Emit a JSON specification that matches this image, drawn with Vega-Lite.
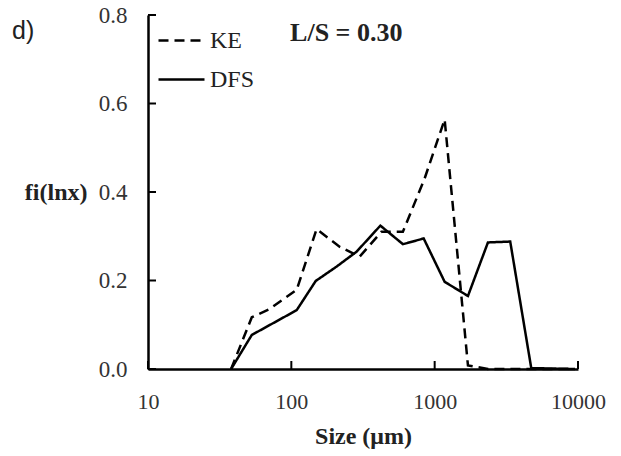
{
  "$schema": "https://vega.github.io/schema/vega-lite/v6.json",
  "width": 430,
  "height": 354,
  "autosize": {"type": "none"},
  "padding": {"left": 148, "top": 15, "right": 43, "bottom": 87},
  "background": "white",
  "config": {"view": {"stroke": null}, "font": "Liberation Serif"},
  "title": {"text": "d)", "anchor": "start", "frame": "group", "font": "Liberation Sans", "fontSize": 25, "fontWeight": "normal", "color": "#222", "dx": -136, "dy": 44},
  "datasets": {
    "lines": [
      {"series": "DFS", "size": 38, "f": 0},
      {"series": "DFS", "size": 53, "f": 0.077},
      {"series": "DFS", "size": 109, "f": 0.133},
      {"series": "DFS", "size": 148, "f": 0.199},
      {"series": "DFS", "size": 206, "f": 0.231},
      {"series": "DFS", "size": 285, "f": 0.265},
      {"series": "DFS", "size": 418, "f": 0.324},
      {"series": "DFS", "size": 601, "f": 0.282},
      {"series": "DFS", "size": 838, "f": 0.295},
      {"series": "DFS", "size": 1174, "f": 0.197},
      {"series": "DFS", "size": 1707, "f": 0.165},
      {"series": "DFS", "size": 2353, "f": 0.286},
      {"series": "DFS", "size": 3366, "f": 0.288},
      {"series": "DFS", "size": 4720, "f": 0.002},
      {"series": "DFS", "size": 9500, "f": 0},
      {"series": "KE", "size": 38, "f": 0},
      {"series": "KE", "size": 53, "f": 0.117},
      {"series": "KE", "size": 70, "f": 0.135},
      {"series": "KE", "size": 109, "f": 0.179},
      {"series": "KE", "size": 150, "f": 0.316},
      {"series": "KE", "size": 218, "f": 0.276},
      {"series": "KE", "size": 300, "f": 0.254},
      {"series": "KE", "size": 425, "f": 0.31},
      {"series": "KE", "size": 600, "f": 0.31},
      {"series": "KE", "size": 850, "f": 0.43},
      {"series": "KE", "size": 1174, "f": 0.564},
      {"series": "KE", "size": 1707, "f": 0.008},
      {"series": "KE", "size": 2353, "f": 0},
      {"series": "KE", "size": 9500, "f": 0}
    ],
    "labels": [
      {"label": "L/S = 0.30", "size": 98, "f": 0.76}
    ],
    "xticks": [
      {"size": 10, "f": 0}, {"size": 100, "f": 0}, {"size": 1000, "f": 0}, {"size": 10000, "f": 0}
    ],
    "yticks": [
      {"size": 10, "f": 0}, {"size": 10, "f": 0.2}, {"size": 10, "f": 0.4}, {"size": 10, "f": 0.6}, {"size": 10, "f": 0.8}
    ]
  },
  "layer": [
    {
      "data": {"name": "lines"},
      "mark": {"type": "line", "color": "black", "strokeWidth": 2.5},
      "encoding": {
        "x": {
          "field": "size", "type": "quantitative",
          "scale": {"type": "log", "domain": [10, 10000], "nice": false},
          "axis": {
            "values": [10, 100, 1000, 10000], "format": "d", "grid": false, "labelFlush": false,
            "domainColor": "black", "domainWidth": 2.5, "ticks": false,
            "labelFont": "Liberation Serif", "labelFontSize": 22, "labelColor": "#333", "labelPadding": 22,
            "title": "Size (μm)", "titleFont": "Liberation Serif", "titleFontSize": 24, "titleFontWeight": "bold", "titleColor": "#222", "titlePadding": 12
          }
        },
        "y": {
          "field": "f", "type": "quantitative",
          "scale": {"domain": [0, 0.8], "nice": false},
          "axis": {
            "values": [0, 0.2, 0.4, 0.6, 0.8], "format": ".1f", "grid": false, "labelFlush": false,
            "domainColor": "black", "domainWidth": 2.5, "ticks": false,
            "labelFont": "Liberation Serif", "labelFontSize": 23, "labelColor": "#333", "labelPadding": 21,
            "title": "fi(lnx)", "titleFont": "Liberation Serif", "titleFontSize": 24, "titleFontWeight": "bold", "titleColor": "#222",
            "titleAngle": 0, "titleAlign": "right", "titleBaseline": "middle", "titleX": -61, "titleY": 177
          }
        },
        "strokeDash": {
          "field": "series", "type": "nominal",
          "scale": {"domain": ["KE", "DFS"], "range": [[10, 6], [1, 0]]},
          "legend": {
            "title": null, "orient": "none", "legendX": 9, "legendY": 1,
            "symbolType": "stroke", "symbolSize": 2116, "symbolStrokeWidth": 2.5, "symbolStrokeColor": "black",
            "labelFont": "Liberation Serif", "labelFontSize": 24, "labelColor": "#222", "labelOffset": 4, "rowPadding": 2
          }
        }
      }
    },
    {
      "data": {"name": "xticks"},
      "mark": {"type": "point", "shape": "M0,0V-1", "filled": false, "stroke": "black", "strokeWidth": 2, "size": 256, "opacity": 1},
      "encoding": {
        "x": {"field": "size", "type": "quantitative"},
        "y": {"field": "f", "type": "quantitative"}
      }
    },
    {
      "data": {"name": "yticks"},
      "mark": {"type": "point", "shape": "M0,0H1", "filled": false, "stroke": "black", "strokeWidth": 2, "size": 256, "opacity": 1},
      "encoding": {
        "x": {"field": "size", "type": "quantitative"},
        "y": {"field": "f", "type": "quantitative"}
      }
    },
    {
      "data": {"name": "labels"},
      "mark": {"type": "text", "align": "left", "baseline": "middle", "font": "Liberation Serif", "fontSize": 26, "fontWeight": "bold", "letterSpacing": 2, "color": "#222"},
      "encoding": {
        "x": {"field": "size", "type": "quantitative"},
        "y": {"field": "f", "type": "quantitative"},
        "text": {"field": "label"}
      }
    }
  ]
}
